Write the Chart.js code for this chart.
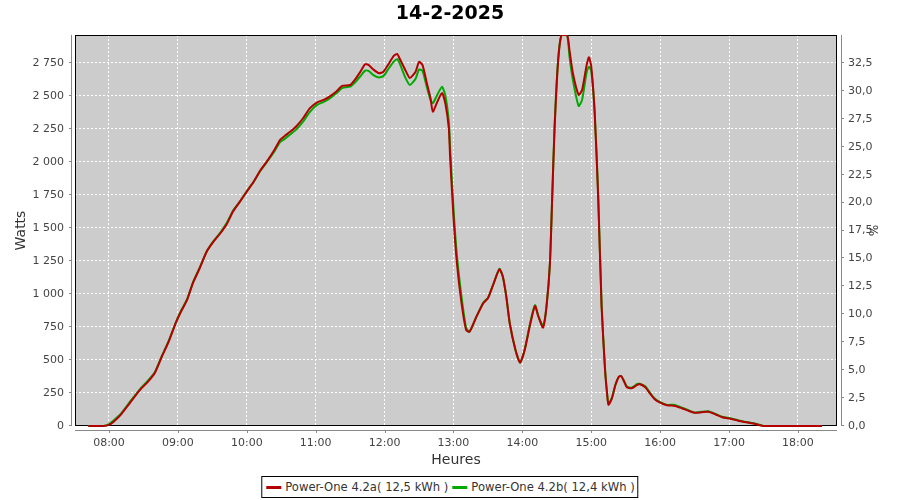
<!DOCTYPE html>
<html lang="fr">
<head>
<meta charset="utf-8">
<title>14-2-2025</title>
<script src="https://cdn.jsdelivr.net/npm/chart.js@4.4.1/dist/chart.umd.min.js"></script>
<style>
  html, body { margin: 0; padding: 0; background: #fff; }
  #wrap { position: relative; width: 900px; height: 500px; }
  #legend {
    position: absolute; top: 476px; left: 450px; transform: translateX(-50%);
    border: 1px solid #000; background: #fff;
    display: flex; align-items: center; padding: 3px 3px;
    font: 11.6px 'DejaVu Sans', sans-serif; color: #333; white-space: nowrap;
  }
  #legend .item { display: flex; align-items: center; }
  #legend .swatch { width: 15px; height: 3px; margin: 0 4px 0 1px; }
</style>
</head>
<body>
<div id="wrap">
  <canvas id="chart" width="900" height="500"></canvas>
  <div id="legend"></div>
</div>
<script>
// sample times (local time) and power of both inverters, in W
const times = [
  '07:42', '07:55', '08:00', '08:04', '08:10', '08:18', '08:27', '08:34', '08:40', '08:46',
  '08:52', '08:58', '09:02', '09:08', '09:13', '09:19', '09:25', '09:31', '09:37', '09:43',
  '09:48', '09:54', '10:01', '10:06', '10:12', '10:18', '10:24', '10:29', '10:33', '10:38',
  '10:43', '10:49', '10:55', '11:01', '11:07', '11:12', '11:18', '11:23', '11:30', '11:34',
  '11:39', '11:43', '11:46', '11:50', '11:55', '11:59', '12:03', '12:08', '12:11', '12:13',
  '12:18', '12:22', '12:27', '12:30', '12:33', '12:37', '12:40', '12:42', '12:46', '12:50',
  '12:53', '12:56', '12:57', '13:00', '13:03', '13:07', '13:11', '13:14', '13:20', '13:26',
  '13:30', '13:35', '13:40', '13:43', '13:46', '13:49', '13:54', '13:58', '14:02', '14:07',
  '14:11', '14:14', '14:18', '14:21', '14:24', '14:26', '14:28', '14:31', '14:34', '14:39',
  '14:41', '14:44', '14:49', '14:52', '14:56', '14:58', '15:00', '15:03', '15:06', '15:09',
  '15:12', '15:14', '15:15', '15:18', '15:21', '15:24', '15:26', '15:28', '15:31', '15:35',
  '15:40', '15:42', '15:47', '15:51', '15:55', '16:00', '16:06', '16:13', '16:19', '16:25',
  '16:30', '16:36', '16:42', '16:48', '16:54', '17:01', '17:08', '17:15', '17:23', '17:27',
  '17:30', '18:21'
];
const powerA = [
  0, 0, 8, 33, 83, 172, 273, 336, 404, 525,
  639, 778, 854, 955, 1081, 1195, 1320, 1396, 1460, 1536,
  1624, 1699, 1788, 1850, 1939, 2010, 2090, 2167, 2197, 2230,
  2268, 2331, 2407, 2450, 2470, 2495, 2533, 2576, 2583, 2621,
  2684, 2740, 2735, 2702, 2672, 2684, 2735, 2803, 2818, 2785,
  2697, 2636, 2684, 2758, 2735, 2590, 2483, 2381, 2457, 2522,
  2440, 2250, 2050, 1586, 1233, 930, 727, 714, 828, 930,
  967, 1081, 1187, 1131, 980, 778, 576, 480, 576, 778,
  909, 828, 745, 904, 1233, 1737, 2242, 2747, 2960, 2960,
  2848, 2672, 2508, 2545, 2735, 2793, 2722, 2369, 1737, 900,
  424, 222, 159, 210, 311, 373, 379, 348, 293, 286,
  311, 318, 293, 248, 205, 177, 157, 152, 134, 114,
  101, 104, 108, 89, 66, 55, 40, 28, 15, 5,
  0, 0
];
const powerB = [
  0, 0, 15, 42, 90, 180, 280, 345, 410, 530,
  645, 780, 860, 960, 1085, 1200, 1320, 1400, 1465, 1545,
  1630, 1700, 1790, 1850, 1935, 2005, 2080, 2150, 2175, 2210,
  2245, 2305, 2380, 2430, 2455, 2480, 2520, 2560, 2570, 2600,
  2650, 2692, 2690, 2660, 2640, 2650, 2700, 2760, 2778, 2750,
  2640, 2583, 2630, 2700, 2690, 2560, 2470, 2445, 2510, 2570,
  2500, 2300, 2120, 1650, 1290, 980, 745, 714, 828, 935,
  970, 1081, 1190, 1131, 980, 778, 576, 480, 576, 790,
  915, 830, 760, 904, 1233, 1737, 2260, 2760, 2960, 2960,
  2800, 2620, 2424, 2470, 2680, 2722, 2690, 2369, 1760, 920,
  430, 230, 165, 215, 311, 373, 379, 350, 300, 290,
  318, 320, 300, 255, 210, 180, 160, 160, 138, 118,
  101, 108, 112, 92, 70, 58, 44, 30, 18, 8,
  0, 0
];
const seriesNames = ['Power-One 4.2a( 12,5 kWh )', 'Power-One 4.2b( 12,4 kWh )'];
const seriesColors = ['#b40000', '#00aa00'];
const hourTicks = ['08:00', '09:00', '10:00', '11:00', '12:00', '13:00', '14:00', '15:00', '16:00', '17:00', '18:00'];
const wattTicks = [0, 250, 500, 750, 1000, 1250, 1500, 1750, 2000, 2250, 2500, 2750];
const pctTicks = [0, 2.5, 5, 7.5, 10, 12.5, 15, 17.5, 20, 22.5, 25, 27.5, 30, 32.5];

const FONT = "'DejaVu Sans', sans-serif";

function toMin(t) {
  const [h, m] = t.split(':').map(Number);
  return h * 60 + m;
}
function fmtTime(v) {
  const h = Math.floor(v / 60), m = Math.round(v % 60);
  return String(h).padStart(2, '0') + ':' + String(m).padStart(2, '0');
}
function fmtWatts(v) {
  return String(v).replace(/\B(?=(\d{3})+(?!\d))/g, ' ');
}

// grey plot background, black outline and offset axis lines
const framePlugin = {
  id: 'frame',
  beforeDraw(chart) {
    const { ctx, chartArea: a } = chart;
    ctx.save();
    ctx.fillStyle = '#cccccc';
    ctx.fillRect(a.left, a.top, a.right - a.left, a.bottom - a.top);
    ctx.restore();
  },
  beforeDatasetsDraw(chart) {
    const { ctx, chartArea: a } = chart;
    ctx.save();
    ctx.lineWidth = 1;
    ctx.strokeStyle = '#000';
    ctx.strokeRect(a.left + 0.5, a.top + 0.5, a.right - a.left - 1, a.bottom - a.top - 1);
    ctx.restore();
  },
  afterDraw(chart) {
    const { ctx, chartArea: a, scales } = chart;
    ctx.save();
    ctx.lineWidth = 1;
    ctx.strokeStyle = '#888';
    ctx.beginPath();
    // left axis
    ctx.moveTo(a.left - 3.5, a.top);
    ctx.lineTo(a.left - 3.5, a.bottom);
    scales.y.ticks.forEach(t => {
      const py = Math.round(scales.y.getPixelForValue(t.value)) - 0.5;
      ctx.moveTo(a.left - 6, py);
      ctx.lineTo(a.left - 3.5, py);
    });
    // right axis
    ctx.moveTo(a.right + 4.5, a.top);
    ctx.lineTo(a.right + 4.5, a.bottom);
    scales.y1.ticks.forEach(t => {
      const py = Math.round(scales.y1.getPixelForValue(t.value)) - 0.5;
      ctx.moveTo(a.right + 4.5, py);
      ctx.lineTo(a.right + 7, py);
    });
    // bottom axis
    ctx.moveTo(a.left, a.bottom + 4.5);
    ctx.lineTo(a.right, a.bottom + 4.5);
    scales.x.ticks.forEach(t => {
      const px = Math.round(scales.x.getPixelForValue(t.value)) + 0.5;
      ctx.moveTo(px, a.bottom + 4.5);
      ctx.lineTo(px, a.bottom + 7);
    });
    ctx.stroke();
    ctx.restore();
  }
};

const tickFont = { family: FONT, size: 11 };
const lineClip = { left: 0, top: 0, right: 0, bottom: 2 };

new Chart(document.getElementById('chart'), {
  type: 'line',
  data: {
    datasets: [
      {
        label: seriesNames[0],
        data: times.map((t, i) => ({ x: toMin(t), y: powerA[i] })),
        borderColor: seriesColors[0],
        borderWidth: 2,
        pointRadius: 0,
        tension: 0.2,
        clip: lineClip,
        yAxisID: 'y'
      },
      {
        label: seriesNames[1],
        data: times.map((t, i) => ({ x: toMin(t), y: powerB[i] })),
        borderColor: seriesColors[1],
        borderWidth: 2,
        pointRadius: 0,
        tension: 0.2,
        clip: lineClip,
        yAxisID: 'y'
      }
    ]
  },
  options: {
    responsive: false,
    animation: false,
    layout: { padding: 0 },
    plugins: {
      legend: { display: false },
      tooltip: { enabled: false },
      title: {
        display: true,
        text: '14-2-2025',
        color: '#000',
        font: { family: FONT, size: 19, weight: 'bold' },
        padding: { top: 3, bottom: 9.2 }
      }
    },
    scales: {
      x: {
        type: 'linear',
        min: 450.4,
        max: 1114,
        afterBuildTicks: s => { s.ticks = hourTicks.map(h => ({ value: toMin(h) })); },
        afterFit: s => { s.height = 74; },
        ticks: { callback: v => fmtTime(v), font: tickFont, color: '#444', padding: 11, maxRotation: 0, autoSkip: false },
        grid: { color: '#fff', lineWidth: 1, drawTicks: false },
        border: { display: false, dash: [2, 2] },
        title: { display: true, text: 'Heures', color: '#333', font: { family: FONT, size: 14 }, padding: { top: 0, bottom: 31.6 } }
      },
      y: {
        position: 'left',
        min: 0,
        max: 2961.5,
        afterBuildTicks: s => { s.ticks = wattTicks.map(v => ({ value: v })); },
        afterFit: s => { s.width = 75; },
        ticks: { callback: v => fmtWatts(v), font: tickFont, color: '#444', padding: 11 },
        grid: { color: '#fff', lineWidth: 1, drawTicks: false },
        border: { display: false, dash: [2, 2] },
        title: { display: true, text: 'Watts', color: '#333', font: { family: FONT, size: 14 }, padding: { top: 12.6, bottom: 0 } }
      },
      y1: {
        position: 'right',
        min: 0,
        max: 35,
        afterBuildTicks: s => { s.ticks = pctTicks.map(v => ({ value: v })); },
        afterFit: s => { s.width = 63; },
        ticks: { callback: v => v.toFixed(1).replace('.', ','), font: tickFont, color: '#444', padding: 11 },
        grid: { drawOnChartArea: false, drawTicks: false },
        border: { display: false },
        title: { display: true, text: '%', color: '#333', font: { family: FONT, size: 12 }, padding: { top: 20.8, bottom: 0 } }
      }
    }
  },
  plugins: [framePlugin]
});

// legend with framed box, as in the original
const legend = document.getElementById('legend');
seriesNames.forEach((name, i) => {
  const item = document.createElement('span');
  item.className = 'item';
  const sw = document.createElement('span');
  sw.className = 'swatch';
  sw.style.background = seriesColors[i];
  const txt = document.createElement('span');
  txt.textContent = name;
  txt.style.marginRight = i === 0 ? '3px' : '0';
  item.appendChild(sw);
  item.appendChild(txt);
  legend.appendChild(item);
});
</script>
</body>
</html>
